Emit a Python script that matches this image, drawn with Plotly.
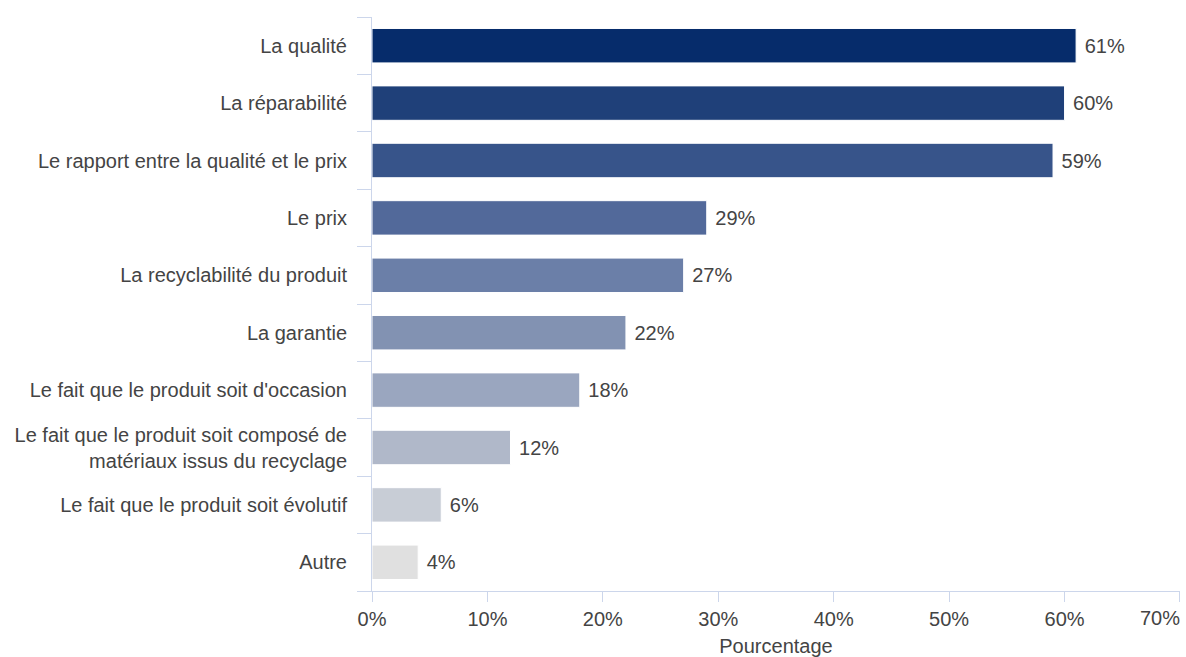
import plotly.graph_objects as go

# Survey results: criteria listed from top to bottom
categories = [
    "La qualité",
    "La réparabilité",
    "Le rapport entre la qualité et le prix",
    "Le prix",
    "La recyclabilité du produit",
    "La garantie",
    "Le fait que le produit soit d'occasion",
    "Le fait que le produit soit composé de<br>matériaux issus du recyclage",
    "Le fait que le produit soit évolutif",
    "Autre",
]
values = [61, 60, 59, 29, 27, 22, 18, 12, 6, 4]
colors = [
    "#062c6b", "#1f4079", "#37548a", "#52699a", "#6b7fa8",
    "#8292b2", "#9aa6bf", "#b0b8c9", "#c8cdd6", "#e0e0e0",
]
x_ticks = [0, 10, 20, 30, 40, 50, 60, 70]

axis_color = "#ccd6eb"
text_color = "#444444"
font_family = "Liberation Sans, Arial, sans-serif"
font_size = 20

fig = go.Figure(
    go.Bar(
        x=values,
        y=categories,
        orientation="h",
        marker=dict(color=colors, line=dict(color="#ffffff", width=1)),
        width=0.6,
        text=[f"{v}%" for v in values],
        texttemplate=" %{text}",
        textposition="outside",
        textfont=dict(size=font_size, color=text_color, family=font_family),
        cliponaxis=False,
        hoverinfo="skip",
    )
)

fig.update_layout(
    width=1186,
    height=657,
    margin=dict(l=372, r=3, t=17, b=65),
    paper_bgcolor="white",
    plot_bgcolor="white",
    font=dict(family=font_family, size=font_size, color=text_color),
    showlegend=False,
    bargap=0.4,
)

# last tick label sits flush with the right edge of the axis
fig.add_annotation(
    x=70, y=0, xref="x", yref="paper",
    text="70%", showarrow=False,
    xanchor="right", yanchor="top",
    xshift=2, yshift=-14,
    font=dict(size=font_size, color=text_color, family=font_family),
)

fig.update_xaxes(
    range=[0, 70.001],
    tickvals=x_ticks,
    ticktext=[f"{t}%" if t != 70 else " " for t in x_ticks],
    showgrid=False,
    zeroline=False,
    showline=True,
    linecolor=axis_color,
    linewidth=1,
    ticks="outside",
    ticklen=10,
    tickcolor=axis_color,
    tickfont=dict(size=font_size, color=text_color),
    title=dict(text="Pourcentage", font=dict(size=font_size, color=text_color), standoff=10),
)

fig.update_yaxes(
    categoryorder="array",
    categoryarray=categories[::-1],
    autorange=False,
    range=[-0.5, len(categories) - 0.5],
    showgrid=False,
    zeroline=False,
    showline=True,
    linecolor=axis_color,
    linewidth=1,
    ticks="outside",
    tickson="boundaries",
    ticklen=14,
    tickcolor=axis_color,
    tickfont=dict(size=font_size, color=text_color),
    ticklabelstandoff=20,
)

fig.write_html("out.html")
